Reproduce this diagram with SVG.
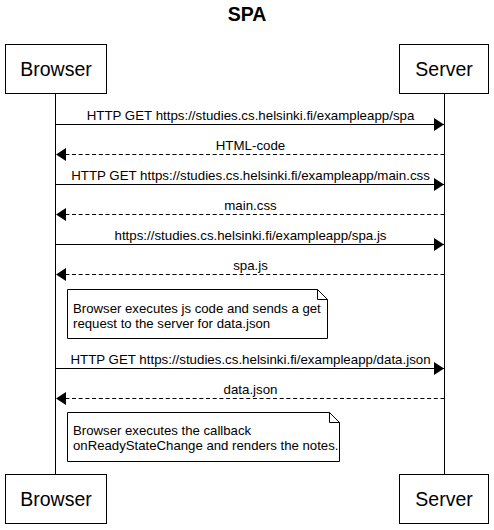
<svg xmlns="http://www.w3.org/2000/svg" width="494" height="530" viewBox="0 0 494 530">
<style>
.bg{fill:#fff}
.actor rect{fill:#fff;stroke:#000;stroke-width:1}
.actor text{font-family:"Liberation Sans",Arial,sans-serif;font-size:19.5px;text-anchor:middle;fill:#000}
.life{stroke:#000;stroke-width:1;fill:none}
.msg{stroke:#000;stroke-width:1;fill:none}
.dash{stroke-dasharray:4,2.7}
.lbl{font-family:"Liberation Sans",Arial,sans-serif;font-size:13.3px;text-anchor:middle;fill:#000}
.note path{fill:#fff;stroke:#000;stroke-width:1}
.note text{font-family:"Liberation Sans",Arial,sans-serif;font-size:13.2px;fill:#000}
.title{font-family:"Liberation Sans",Arial,sans-serif;font-size:19.5px;font-weight:bold;text-anchor:middle;fill:#000}
</style>
<defs>
<marker id="ah" markerWidth="10" markerHeight="13" refX="10" refY="6.5" orient="auto" markerUnits="userSpaceOnUse">
<path d="M0,0 L10,6.5 L0,13 Z" fill="#000"/>
</marker>
</defs>
<rect class="bg" x="0" y="0" width="494" height="530"/>
<text class="title" x="247" y="21">SPA</text>
<g id="lifelines">
<line class="life" x1="55.5" y1="93.5" x2="55.5" y2="474.5"/>
<line class="life" x1="444.5" y1="93.5" x2="444.5" y2="474.5"/>
</g>
<g id="browser-top" class="actor"><rect x="5.5" y="44.5" width="101" height="49"/><text x="56" y="76">Browser</text></g>
<g id="server-top" class="actor"><rect x="399.5" y="44.5" width="89" height="49"/><text x="444" y="76">Server</text></g>
<g id="browser-bottom" class="actor"><rect x="5.5" y="474.5" width="101" height="49"/><text x="56" y="506">Browser</text></g>
<g id="server-bottom" class="actor"><rect x="399.5" y="474.5" width="89" height="49"/><text x="444" y="506">Server</text></g>
<g id="connectors">
<line class="msg" x1="55.5" y1="124.5" x2="444" y2="124.5" marker-end="url(#ah)"/>
<text class="lbl" x="250.5" y="119.5">HTTP GET https://studies.cs.helsinki.fi/exampleapp/spa</text>
<line class="msg dash" x1="444.5" y1="154.5" x2="56" y2="154.5" marker-end="url(#ah)"/>
<text class="lbl" x="250.5" y="149.5">HTML-code</text>
<line class="msg" x1="55.5" y1="184.5" x2="444" y2="184.5" marker-end="url(#ah)"/>
<text class="lbl" x="250.5" y="179.5">HTTP GET https://studies.cs.helsinki.fi/exampleapp/main.css</text>
<line class="msg dash" x1="444.5" y1="214.5" x2="56" y2="214.5" marker-end="url(#ah)"/>
<text class="lbl" x="250.5" y="209.5">main.css</text>
<line class="msg" x1="55.5" y1="244.5" x2="444" y2="244.5" marker-end="url(#ah)"/>
<text class="lbl" x="250.5" y="239.5">https://studies.cs.helsinki.fi/exampleapp/spa.js</text>
<line class="msg dash" x1="444.5" y1="274.5" x2="56" y2="274.5" marker-end="url(#ah)"/>
<text class="lbl" x="250.5" y="269.5">spa.js</text>
<line class="msg" x1="55.5" y1="368.5" x2="444" y2="368.5" marker-end="url(#ah)"/>
<text class="lbl" x="250.5" y="363.5">HTTP GET https://studies.cs.helsinki.fi/exampleapp/data.json</text>
<line class="msg dash" x1="444.5" y1="398.5" x2="56" y2="398.5" marker-end="url(#ah)"/>
<text class="lbl" x="250.5" y="393.5">data.json</text>
</g>
<g id="note1" class="note">
<path d="M67.5,289.5 H317.5 L327.5,299.5 V338.5 H67.5 Z M317.5,289.5 V299.5 H327.5"/>
<text x="73" y="312.5">Browser executes js code and sends a get</text>
<text x="73" y="327.5">request to the server for data.json</text>
</g>
<g id="note2" class="note">
<path d="M67.5,412.5 H329.5 L339.5,422.5 V461.5 H67.5 Z M329.5,412.5 V422.5 H339.5"/>
<text x="73" y="434.5">Browser executes the callback</text>
<text x="73" y="449.5">onReadyStateChange and renders the notes.</text>
</g>
</svg>
